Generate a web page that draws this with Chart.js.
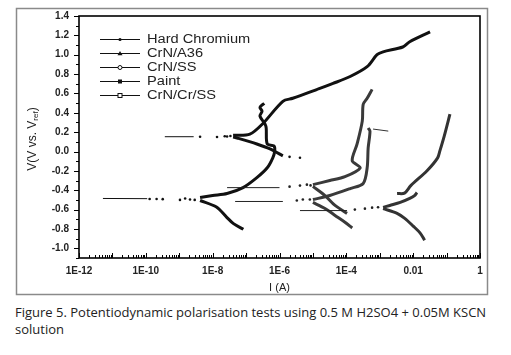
<!DOCTYPE html>
<html>
<head>
<meta charset="utf-8">
<script src="https://cdn.jsdelivr.net/npm/chart.js@4.4.0/dist/chart.umd.min.js"></script>
<style>
html, body { margin: 0; padding: 0; background: #fff; }
body { width: 511px; height: 355px; position: relative; overflow: hidden; }
#wrap { position: absolute; left: 0; top: 0; width: 511px; height: 300px; }
#caption { position: absolute; left: 15px; top: 304px; font-family: "Open Sans", sans-serif; font-size: 13px; color: #222; line-height: 17px; white-space: nowrap; }
</style>
</head>
<body>
<div id="wrap"><canvas id="chart"></canvas></div>
<div id="caption">Figure 5. Potentiodynamic polarisation tests using 0.5 M H2SO4 + 0.05M KSCN<br>solution</div>
<script>
var seriesNames = ['Hard Chromium', 'CrN/A36', 'CrN/SS', 'Paint', 'CrN/Cr/SS'];
var seriesMarks = ['dot', 'triangle', 'ocircle', 'square', 'osquare'];

// every point is [I (A), V]
var hcTail = [[4.1e-6, -0.61], [1.05e-4, -0.61]];
var hcDots = [[1.8e-4, -0.6], [3.6e-4, -0.59], [5.9e-4, -0.58], [8.9e-4, -0.575]];
var hcAnodic = [[1.26e-3, -0.577], [2.0e-3, -0.557], [4.1e-3, -0.526], [7.9e-3, -0.485], [0.011, -0.455], [0.013, -0.424]];
var hcAnodic2 = [[3.3e-3, -0.434], [5.5e-3, -0.43], [8.5e-3, -0.352], [0.026, -0.198], [0.054, -0.065], [0.063, 0.007], [0.085, 0.16], [0.126, 0.386]];
var hcCathodic = [[1.26e-3, -0.59], [3.3e-3, -0.639], [5.6e-3, -0.69], [0.01, -0.77], [0.016, -0.84], [0.022, -0.916]];

var a36Tail = [[4.7e-8, -0.516], [1.26e-6, -0.516]];
var a36Dots = [[3.3e-6, -0.506], [5.0e-6, -0.496], [8.1e-6, -0.496]];
var a36Anodic = [[1.0e-5, -0.496], [3.2e-5, -0.455], [1.3e-4, -0.383], [3.2e-4, -0.33], [4.2e-4, -0.168], [4.5e-4, 0.037], [5.1e-4, 0.21], [4.5e-4, 0.242]];
var a36Jump = [[6.3e-4, 0.232], [1.8e-3, 0.211]];
var a36Cathodic = [[1.0e-5, -0.526], [2.3e-5, -0.588], [4.6e-5, -0.66], [9.1e-5, -0.73], [1.5e-4, -0.79]];

var ssTail = [[2.7e-8, -0.373], [1.0e-6, -0.373]];
var ssDots = [[2.0e-6, -0.363], [4.1e-6, -0.352], [6.6e-6, -0.342], [8.5e-6, -0.35]];
var ssAnodic = [[1.0e-5, -0.342], [3.2e-5, -0.30], [9.1e-5, -0.26], [2.6e-4, -0.168], [1.5e-4, -0.096], [2.1e-4, 0.078], [3.0e-4, 0.314], [3.2e-4, 0.488], [4.2e-4, 0.55], [5.9e-4, 0.642]];
var ssCathodic = [[1.0e-5, -0.36], [2.3e-5, -0.455], [4.6e-5, -0.557], [1.05e-4, -0.639]];

var paintTail = [[5.2e-12, -0.485], [1.1e-10, -0.487]];
var paintDots = [[1.3e-10, -0.49], [2.1e-10, -0.49], [3.2e-10, -0.492], [1.05e-9, -0.5], [1.5e-9, -0.485], [2.1e-9, -0.495], [2.9e-9, -0.5]];
var paintAnodic = [[4.2e-9, -0.475], [1.0e-8, -0.455], [2.7e-8, -0.434], [8.1e-8, -0.373], [2.1e-7, -0.27], [4.3e-7, -0.168], [6.3e-7, -0.065], [7.2e-7, 0.007], [6.8e-7, 0.058], [4.3e-7, 0.078], [4.0e-7, 0.242], [3.7e-7, 0.283], [2.6e-7, 0.365], [3.0e-7, 0.416], [2.6e-7, 0.457], [3.5e-7, 0.498]];
var paintCathodic = [[4.2e-9, -0.506], [1.3e-8, -0.574], [2.6e-8, -0.677], [4.2e-8, -0.745], [8.3e-8, -0.803]];

var crTail = [[3.7e-10, 0.153], [2.7e-9, 0.153]];
var crDots = [[4.2e-9, 0.152], [1.35e-8, 0.15], [2.3e-8, 0.158], [2.7e-8, 0.155], [3.4e-8, 0.16], [2.0e-6, -0.055], [4.1e-6, -0.065]];
var crAnodic = [[4.1e-8, 0.168], [1.3e-7, 0.18], [3.2e-7, 0.29], [1.26e-6, 0.519], [2.5e-6, 0.55], [1.3e-5, 0.64], [4.0e-5, 0.703], [1.3e-4, 0.775], [4.2e-4, 0.877], [8.3e-4, 1.0], [1.26e-3, 1.03], [4.9e-3, 1.08], [7.9e-3, 1.134], [0.032, 1.236]];
var crCathodic = [[4.1e-8, 0.15], [5.4e-8, 0.14], [2.1e-7, 0.078], [5.2e-7, 0.027], [1.26e-6, -0.045]];

function pts(arr) {
  return arr.map(function (p) { return { x: p[0], y: p[1] }; });
}
function thin(arr, col) {
  return { data: pts(arr), borderColor: col, borderWidth: 1, pointRadius: 0, tension: 0 };
}
function dots(arr, col) {
  return { data: pts(arr), showLine: false, pointRadius: 1.3, pointBackgroundColor: col, pointBorderWidth: 0 };
}
function thick(arr, col) {
  return { data: pts(arr), borderColor: col, borderWidth: 3, pointRadius: 0, tension: 0.3 };
}

var datasets = [];
datasets.push(thin(hcTail, '#222'), dots(hcDots, '#222'), thick(hcAnodic, '#333'), thick(hcAnodic2, '#333'), thick(hcCathodic, '#333'));
datasets.push(thin(a36Tail, '#222'), dots(a36Dots, '#222'), thick(a36Anodic, '#3a3a3a'), thin(a36Jump, '#333'), thick(a36Cathodic, '#3a3a3a'));
datasets.push(thin(ssTail, '#222'), dots(ssDots, '#222'), thick(ssAnodic, '#3a3a3a'), thick(ssCathodic, '#3a3a3a'));
datasets.push(thin(paintTail, '#111'), dots(paintDots, '#111'), thick(paintAnodic, '#111'), thick(paintCathodic, '#111'));
datasets.push(thin(crTail, '#111'), dots(crDots, '#111'), thick(crAnodic, '#111'), thick(crCathodic, '#111'));

function isDecade(v) {
  var e = Math.log10(v);
  return Math.abs(e - Math.round(e)) < 1e-6;
}

function xLabel(v) {
  var e = Math.log10(v);
  var r = Math.round(e);
  if (Math.abs(e - r) > 1e-6 || r % 2 !== 0) return '';
  if (r === 0) return '1';
  if (r === -2) return '0.01';
  return '1E' + r;
}

// frame, ticks, legend and y title
var decor = {
  id: 'decor',
  beforeDraw: function (chart) {
    var ctx = chart.ctx;
    ctx.save();
    ctx.strokeStyle = '#8a8a8a';
    ctx.lineWidth = 1.5;
    ctx.strokeRect(16.5, 8.5, 471, 286);
    ctx.restore();
  },
  afterDraw: function (chart) {
    var ctx = chart.ctx, a = chart.chartArea;
    var xs = chart.scales.x, ys = chart.scales.y;
    ctx.save();
    ctx.strokeStyle = '#000';
    ctx.lineWidth = 1;
    xs.ticks.forEach(function (t) {
      var v = t.value;
      var m = v / Math.pow(10, Math.floor(Math.log10(v) + 1e-9));
      if (Math.abs(m - Math.round(m)) > 0.01) return;
      var px = Math.round(xs.getPixelForValue(v)) + 0.5;
      ctx.beginPath();
      ctx.moveTo(px, a.bottom);
      ctx.lineTo(px, a.bottom - (isDecade(v) ? 5 : 3));
      ctx.stroke();
    });
    ys.ticks.forEach(function (t) {
      var py = Math.round(ys.getPixelForValue(t.value)) + 0.5;
      var major = Math.round(t.value * 10) % 2 === 0;
      ctx.beginPath();
      ctx.moveTo(a.left, py);
      ctx.lineTo(a.left - (major ? 5 : 3), py);
      ctx.stroke();
    });
    ctx.lineWidth = 1.6;
    ctx.strokeRect(a.left, a.top, a.right - a.left, a.bottom - a.top);

    // legend
    var lx = a.left + 21, ly = a.top + 23;
    ctx.font = '12px "Liberation Sans", Arial, sans-serif';
    ctx.textBaseline = 'middle';
    ctx.fillStyle = '#222';
    seriesNames.forEach(function (name, i) {
      var y = Math.round(ly + i * 14) + 0.5;
      ctx.lineWidth = 1;
      ctx.strokeStyle = '#111';
      ctx.beginPath();
      ctx.moveTo(lx, y);
      ctx.lineTo(lx + 40, y);
      ctx.stroke();
      var cx = lx + 20;
      ctx.fillStyle = '#111';
      var mk = seriesMarks[i];
      if (mk === 'dot') {
        ctx.beginPath(); ctx.arc(cx, y, 1.6, 0, Math.PI * 2); ctx.fill();
      } else if (mk === 'triangle') {
        ctx.beginPath(); ctx.moveTo(cx, y - 2.5); ctx.lineTo(cx + 2.5, y + 1.8); ctx.lineTo(cx - 2.5, y + 1.8); ctx.closePath(); ctx.fill();
      } else if (mk === 'ocircle') {
        ctx.beginPath(); ctx.arc(cx, y, 2, 0, Math.PI * 2); ctx.fillStyle = '#fff'; ctx.fill(); ctx.stroke();
      } else if (mk === 'square') {
        ctx.fillRect(cx - 2, y - 2, 4, 4);
      } else {
        ctx.fillStyle = '#fff'; ctx.fillRect(cx - 2, y - 2, 4, 4); ctx.strokeRect(cx - 2, y - 2, 4, 4);
      }
      ctx.save();
      ctx.translate(lx + 47, y);
      ctx.scale(1.22, 1);
      ctx.fillStyle = '#222';
      ctx.fillText(name, 0, 0);
      ctx.restore();
    });

    // y axis title with subscript
    ctx.save();
    ctx.translate(33, (a.top + a.bottom) / 2 + 2);
    ctx.rotate(-Math.PI / 2);
    ctx.fillStyle = '#222';
    ctx.textBaseline = 'middle';
    var big = '12px "Liberation Sans", Arial, sans-serif';
    var small = '8px "Liberation Sans", Arial, sans-serif';
    ctx.font = big;
    var w1 = ctx.measureText('V(V vs. V').width, w3 = ctx.measureText(')').width;
    ctx.font = small;
    var w2 = ctx.measureText('ref').width;
    var x0 = -(w1 + w2 + w3) / 2;
    ctx.font = big;
    ctx.fillText('V(V vs. V', x0, 0);
    ctx.font = small;
    ctx.fillText('ref', x0 + w1, 3);
    ctx.font = big;
    ctx.fillText(')', x0 + w1 + w2, 0);
    ctx.restore();

    ctx.restore();
  }
};

var tickFont = { family: '"Liberation Sans", Arial, sans-serif', size: 10, weight: 'bold' };

var ctx = document.getElementById('chart').getContext('2d');
var chart = new Chart(ctx, {
  type: 'line',
  data: { datasets: datasets },
  options: {
    responsive: true,
    maintainAspectRatio: false,
    animation: false,
    devicePixelRatio: 1,
    layout: { padding: { left: 0, right: 31, top: 14, bottom: 0 } },
    plugins: { legend: { display: false }, tooltip: { enabled: false } },
    scales: {
      x: {
        type: 'logarithmic',
        min: 1e-12,
        max: 1,
        grid: { display: false, drawTicks: false },
        border: { display: false },
        ticks: { autoSkip: false, maxRotation: 0, padding: 7, color: '#222', font: tickFont, callback: function (v) { return xLabel(v); } },
        title: { display: true, text: 'I (A)', color: '#222', font: { family: '"Liberation Sans", Arial, sans-serif', size: 11 }, padding: { top: 0, bottom: 5 } },
        afterFit: function (s) { s.height = 42; }
      },
      y: {
        type: 'linear',
        min: -1.1,
        max: 1.4,
        grid: { display: false, drawTicks: false },
        border: { display: false },
        ticks: {
          stepSize: 0.1, autoSkip: false, padding: 10, color: '#222', font: tickFont,
          callback: function (v) {
            var k = Math.round(v * 10);
            if (k % 2 !== 0) return '';
            return (k / 10).toFixed(1);
          }
        },
        afterFit: function (s) { s.width = 79; }
      }
    }
  },
  plugins: [decor]
});
</script>
</body>
</html>
